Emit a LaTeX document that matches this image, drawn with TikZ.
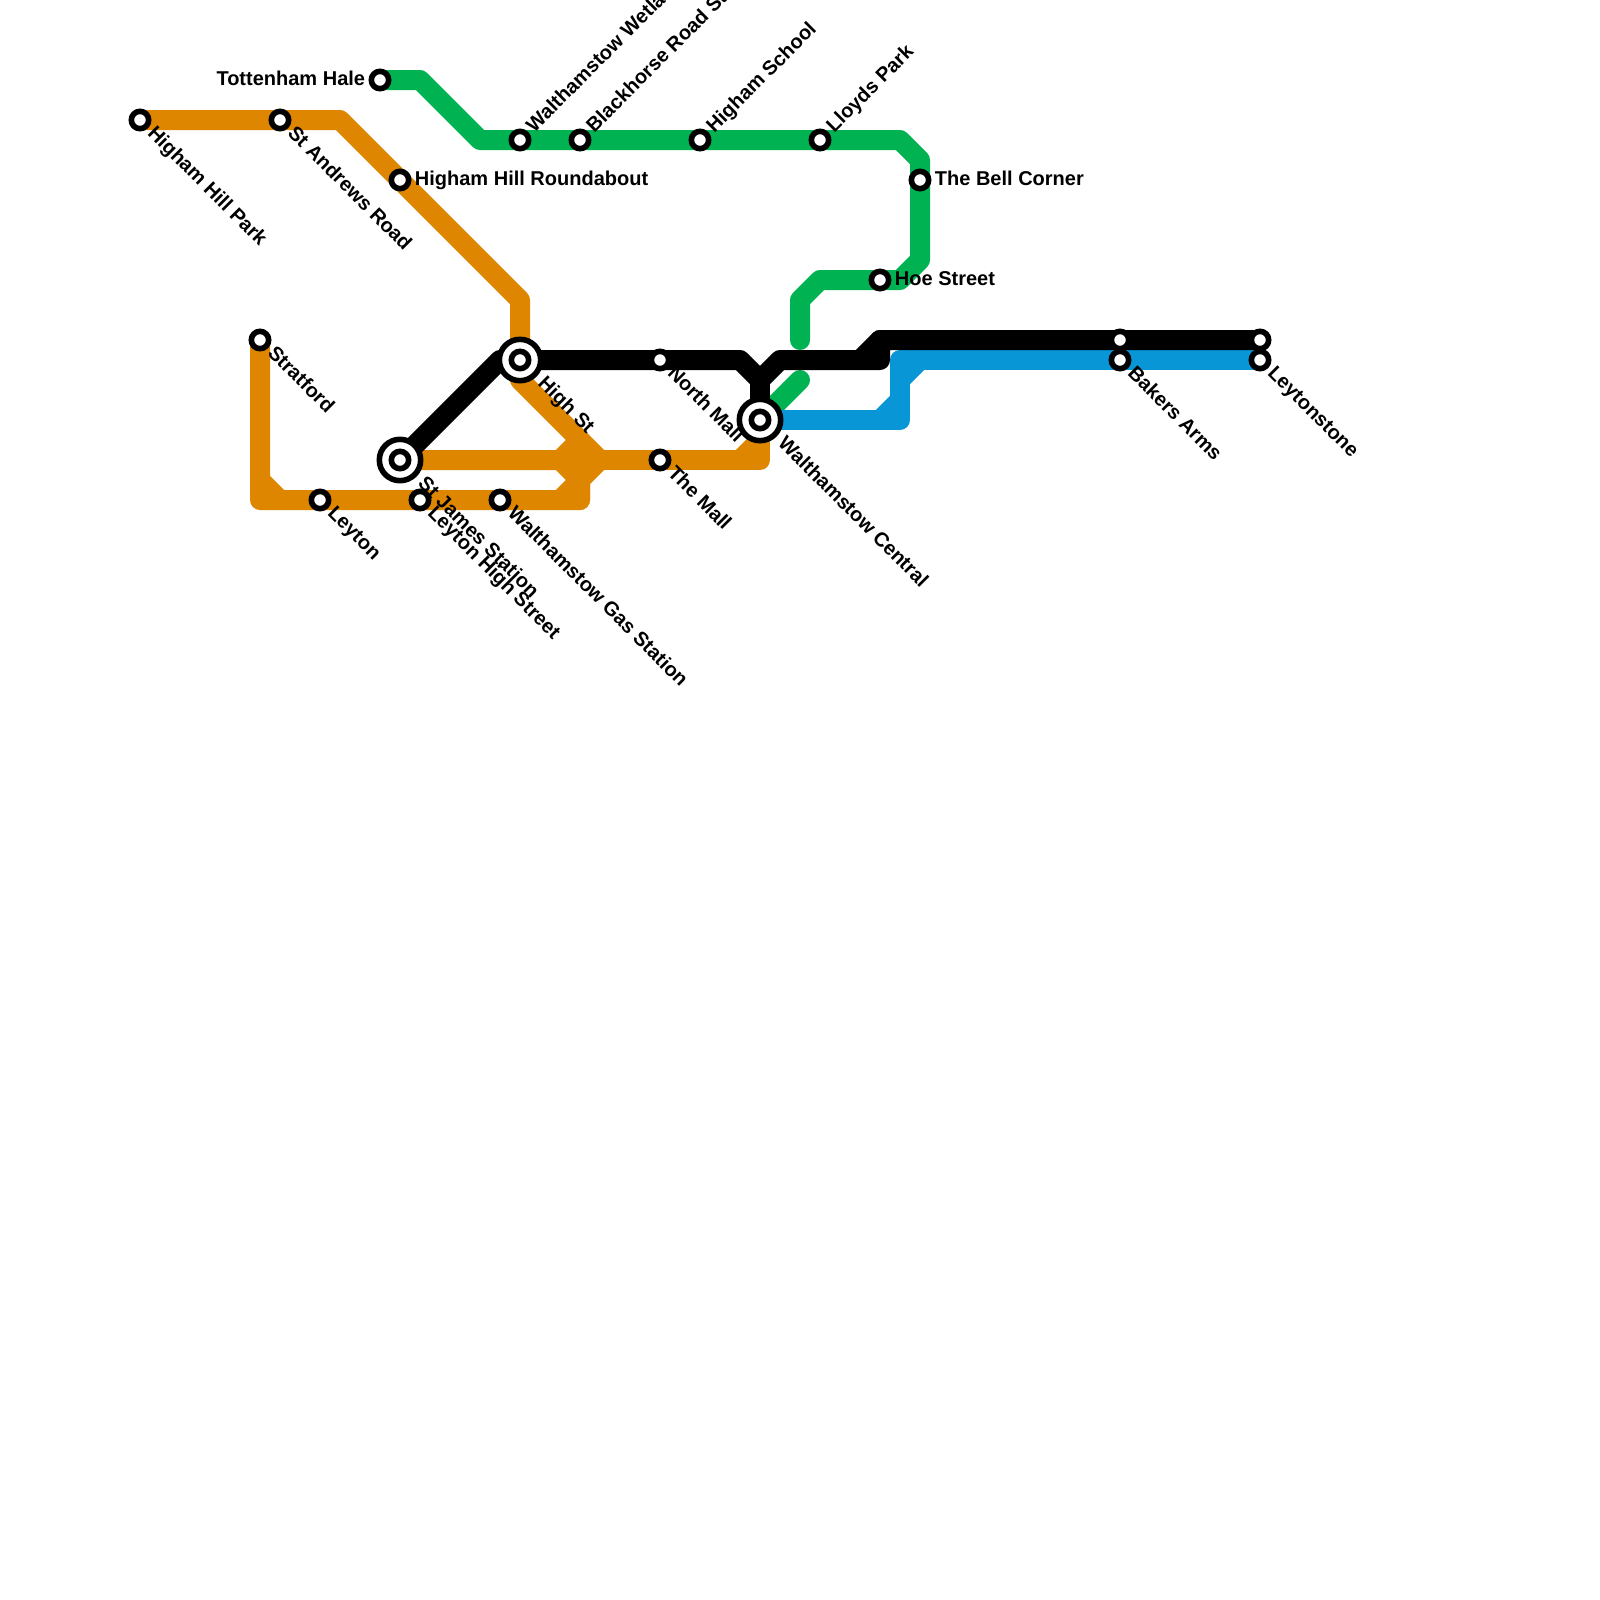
\documentclass[tikz,border=0pt]{standalone}
\usepackage{fontspec}
\setmainfont{Liberation Sans}
\usetikzlibrary{backgrounds}
\definecolor{lineorange}{HTML}{DF8600}
\definecolor{linegreen}{HTML}{00B251}
\definecolor{lineblue}{HTML}{0896D7}
\tikzset{
  metro/.style   = {line width=15pt, line cap=round, line join=round},
  stop/.style    = {circle, draw=black, fill=white, line width=4.2pt, minimum size=13pt, inner sep=0pt},
  hubring/.style = {circle, draw=black, fill=white, line width=4.2pt, minimum size=31pt, inner sep=0pt},
  lbl/.style     = {font=\bfseries\fontsize{15pt}{17pt}\selectfont, inner sep=0pt, text=black,
                    text height=11pt, text depth=3pt},
  lblse/.style   = {lbl, rotate=-45, anchor=west, xshift=11pt},
  lblhub/.style  = {lbl, rotate=-45, anchor=west, xshift=22pt},
  lblne/.style   = {lbl, rotate=45, anchor=west, xshift=11pt},
  lble/.style    = {lbl, anchor=west, xshift=11pt},
  lblw/.style    = {lbl, anchor=east, xshift=-11pt},
}
\begin{document}
\begin{tikzpicture}[x=15pt,y=-15pt]
\clip (0,0) rectangle (80,80);
% bends of the lines
\foreach \id/\x/\y in {oA/17/6,oB/26/15,oC/26/19,oD/30/23,oE/29/24,oF/29/25,oG/13/25,oH/13/24,oI/14/25,
    oJ/28/23,oK/29/22,oL/28/25,oM/38/23,oN/37/23,oO/38/22,
    gA/21/4,gB/24/7,gC/45/7,gD/46/8,gE/46/13,gF/45/14,gG/41/14,gH/40/15,gI/40/17,gJ/40/19,
    kA/25/18,kB/37/18,kC/38/19,kD/39/18,kE/44/18,kF/43/18,kG/44/17,
    bA/45/21,bB/44/21,bC/45/20,bD/45/19,bE/46/18,bF/45/18} {
  \coordinate (\id) at (\x,\y);
}
% plain stops with their labels
\foreach \id/\x/\y/\side/\txt in {hhp/7/6/lblse/Higham Hill Park,sar/14/6/lblse/St Andrews Road,
    tot/19/4/lblw/Tottenham Hale,hhr/20/9/lble/Higham Hill Roundabout,
    wwl/26/7/lblne/Walthamstow Wetlands,brs/29/7/lblne/Blackhorse Road Station,
    hsc/35/7/lblne/Higham School,llp/41/7/lblne/Lloyds Park,tbc/46/9/lble/The Bell Corner,
    hoe/44/14/lble/Hoe Street,stf/13/17/lblse/Stratford,nml/33/18/lblse/North Mall,
    tml/33/23/lblse/The Mall,ley/16/25/lblse/Leyton,lhs/21/25/lblse/Leyton High Street,
    wgs/25/25/lblse/Walthamstow Gas Station,bka/56/18/lblse/Bakers Arms,lyt/63/18/lblse/Leytonstone} {
  \node[stop] (\id) at (\x,\y) {};
  \node[\side] (\id-l) at (\x,\y) {\txt};
}
\node[stop] (bkb) at (56,17) {};
\node[stop] (lyb) at (63,17) {};
% interchanges
\node[lblhub] (hst-l) at (26,18) {High St};
\node[lblhub] (wcl-l) at (38,21) {Walthamstow Central};
\node[lblhub] (sjs-l) at (20,23) {St James Station};
\foreach \id/\x/\y in {hst/26/18,wcl/38/21,sjs/20/23} {
  \node[hubring] (\id-r) at (\x,\y) {};
  \node[stop] (\id) at (\x,\y) {};
}
% the lines themselves
\begin{scope}[on background layer]
\draw[metro, lineorange] (hhp.center) -- (oA) -- (oB) -- (oC) -- (oD) -- (oE) -- (oF) -- (oG) -- (stf.center);
\draw[metro, lineorange] (oH) -- (oI);
\draw[metro, lineorange] (sjs.center) -- (oJ) -- (oK) -- (oF);
\draw[metro, lineorange] (oJ) -- (oE);
\draw[metro, lineorange] (oL) -- (oE);
\draw[metro, lineorange] (oD) -- (oM) -- (wcl.center);
\draw[metro, lineorange] (oN) -- (oO);
\draw[metro, linegreen] (tot.center) -- (gA) -- (gB) -- (gC) -- (gD) -- (gE) -- (gF) -- (gG) -- (gH) -- (gI);
\draw[metro, linegreen] (gJ) -- (wcl.center);
\draw[metro, lineblue] (wcl.center) -- (bA) -- (bF) -- (lyt.center);
\draw[metro, lineblue] (bB) -- (bC);
\draw[metro, lineblue] (bD) -- (bE);
\draw[metro, black] (sjs.center) -- (kA) -- (kB) -- (kC) -- (kD) -- (kE) -- (kG) -- (lyb.center);
\draw[metro, black] (kC) -- (wcl.center);
\draw[metro, black] (kF) -- (kG);
\end{scope}
\end{tikzpicture}
\end{document}
